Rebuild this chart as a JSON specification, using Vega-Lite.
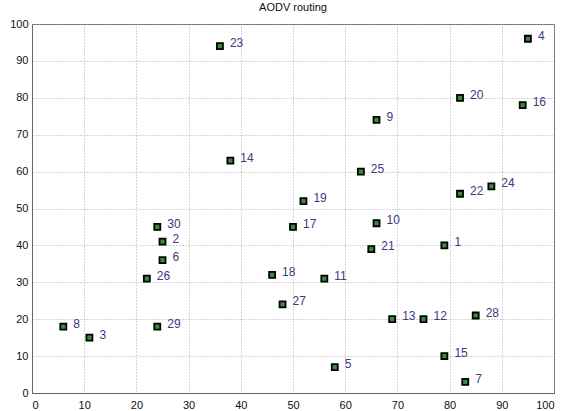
{
  "$schema": "https://vega.github.io/schema/vega-lite/v6.json",
  "width": 522,
  "height": 369,
  "autosize": {"type": "none"},
  "padding": {"left": 32, "top": 24, "right": 8, "bottom": 18},
  "background": "white",
  "title": {"text": "AODV routing", "fontSize": 11, "fontWeight": "normal", "font": "Liberation Sans", "color": "#111", "offset": 5},
  "config": {
    "view": {"stroke": "#666", "strokeWidth": 1},
    "axis": {"labelFont": "Liberation Sans", "labelFontSize": 11, "labelColor": "#111", "grid": true, "gridDash": [1, 2], "gridColor": "#aaa", "gridOpacity": 1, "domainColor": "#666", "tickColor": "#666", "tickSize": 0, "title": null}
  },
  "data": {"values": [
    {"id": 1, "x": 79, "y": 40},
    {"id": 2, "x": 25, "y": 41},
    {"id": 3, "x": 11, "y": 15},
    {"id": 4, "x": 95, "y": 96},
    {"id": 5, "x": 58, "y": 7},
    {"id": 6, "x": 25, "y": 36},
    {"id": 7, "x": 83, "y": 3},
    {"id": 8, "x": 6, "y": 18},
    {"id": 9, "x": 66, "y": 74},
    {"id": 10, "x": 66, "y": 46},
    {"id": 11, "x": 56, "y": 31},
    {"id": 12, "x": 75, "y": 20},
    {"id": 13, "x": 69, "y": 20},
    {"id": 14, "x": 38, "y": 63},
    {"id": 15, "x": 79, "y": 10},
    {"id": 16, "x": 94, "y": 78},
    {"id": 17, "x": 50, "y": 45},
    {"id": 18, "x": 46, "y": 32},
    {"id": 19, "x": 52, "y": 52},
    {"id": 20, "x": 82, "y": 80},
    {"id": 21, "x": 65, "y": 39},
    {"id": 22, "x": 82, "y": 54},
    {"id": 23, "x": 36, "y": 94},
    {"id": 24, "x": 88, "y": 56},
    {"id": 25, "x": 63, "y": 60},
    {"id": 26, "x": 22, "y": 31},
    {"id": 27, "x": 48, "y": 24},
    {"id": 28, "x": 85, "y": 21},
    {"id": 29, "x": 24, "y": 18},
    {"id": 30, "x": 24, "y": 45}
  ]},
  "encoding": {
    "x": {"field": "x", "type": "quantitative", "scale": {"domain": [0, 100], "nice": false, "zero": false}, "axis": {"values": [0,10,20,30,40,50,60,70,80,90,100], "labelPadding": 6}},
    "y": {"field": "y", "type": "quantitative", "scale": {"domain": [0, 100], "nice": false, "zero": false}, "axis": {"values": [0,10,20,30,40,50,60,70,80,90,100], "labelPadding": 4}}
  },
  "layer": [
    {"mark": {"type": "point", "shape": "square", "filled": true, "size": 36, "fill": "#3d8a3d", "stroke": "#000", "strokeWidth": 1.8, "opacity": 1}},
    {"mark": {"type": "text", "align": "left", "baseline": "middle", "dx": 10, "dy": -3, "font": "Liberation Sans", "fontSize": 12, "color": "#3a3a80"}, "encoding": {"text": {"field": "id", "type": "nominal"}}}
  ]
}
